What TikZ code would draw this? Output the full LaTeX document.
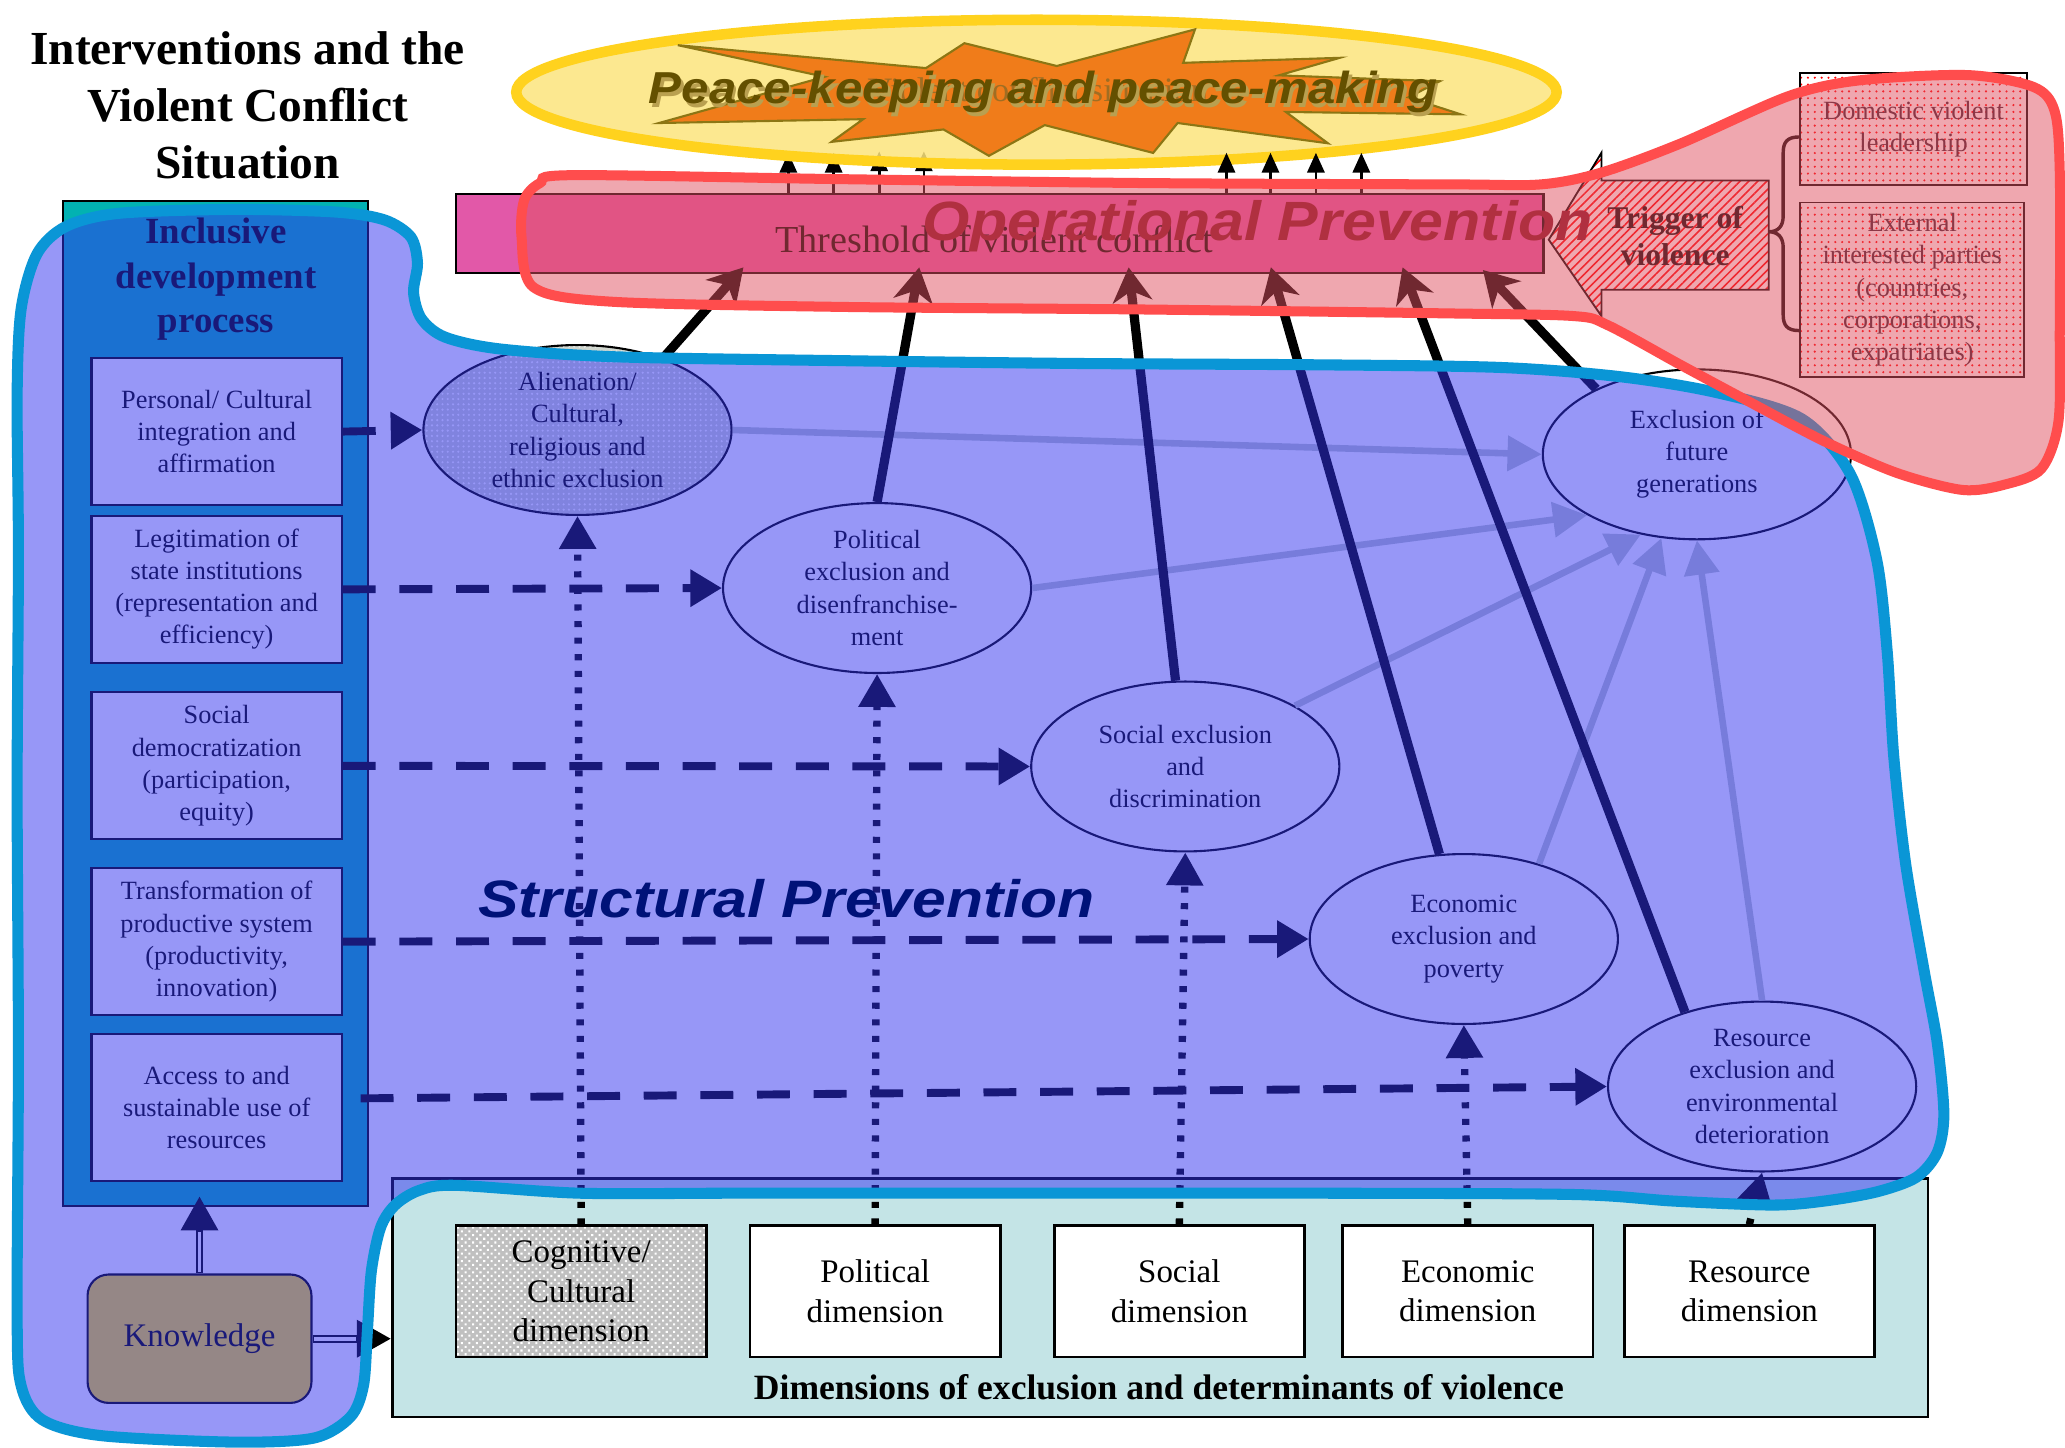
\documentclass[tikz,border=0pt]{standalone}
\usepackage{fontspec}
\setmainfont{Liberation Serif}
\newfontfamily\sansfam{Liberation Sans}
\usepackage{graphicx}
\usetikzlibrary{shapes.geometric,arrows.meta,patterns.meta,calc}
\definecolor{navyov}{RGB}{51,51,241}
\definecolor{blueline}{RGB}{10,150,214}
\definecolor{redov}{RGB}{225,81,97}
\definecolor{redline}{RGB}{255,77,77}
\definecolor{teal0}{RGB}{2,178,178}
\definecolor{magbar}{RGB}{226,88,168}
\definecolor{cyanp}{RGB}{196,228,230}
\definecolor{yellfill}{RGB}{252,228,125}
\definecolor{goldline}{RGB}{255,210,30}
\definecolor{orangestar}{RGB}{240,124,26}
\definecolor{olivestar}{RGB}{140,118,20}
\definecolor{olivetext}{RGB}{100,80,0}
\definecolor{oliveshadow}{RGB}{185,160,80}
\definecolor{lightconn}{RGB}{190,200,198}
\definecolor{knowfill}{RGB}{251,221,26}
\definecolor{alifill}{RGB}{208,214,206}
\definecolor{cogfill}{RGB}{192,192,192}
\definecolor{structxt}{RGB}{0,18,120}
\definecolor{opertxt}{RGB}{176,48,64}
\definecolor{boxtxt}{RGB}{55,29,43}
\definecolor{faintstar}{RGB}{160,110,35}
\newcommand\fsz[2]{\fontsize{#1}{#2}\selectfont}
\begin{document}
\begin{tikzpicture}[x=0.5pt,y=-0.5pt,
  ellbase/.style={ellipse, draw=black, line width=0.8pt, minimum width=117pt, minimum height=64.5pt, inner sep=0pt},
  etext/.style={align=center, font=\fsz{10}{12.2}, text=black, inner sep=0pt},
  lbox/.style={rectangle, draw=black, line width=0.8pt, fill=white, minimum width=95pt, minimum height=55.75pt, inner sep=0pt, align=center, font=\fsz{10}{12.2}},
  dboxbase/.style={rectangle, draw=black, line width=1pt, minimum width=95pt, minimum height=49.75pt, inner sep=0pt, align=center, font=\fsz{12.5}{15}},
  upconn/.style={line width=3.5pt, -{Stealth[length=13pt,width=15pt,inset=4pt]}},
  dashconn/.style={line width=3pt, dash pattern=on 12.5pt off 9pt, -{Triangle[length=12pt,width=13.5pt]}},
  dotconn/.style={line width=2.8pt, dash pattern=on 2.3pt off 4pt, -{Triangle[length=12.5pt,width=13.5pt]}},
  liteconn/.style={draw=lightconn, line width=2.5pt, -{Triangle[length=13pt,width=13pt]}},
  smallup/.style={line width=1pt, -{Triangle[length=7.5pt,width=6.5pt]}},
  redpat/.style={preaction={fill=white}, pattern={Dots[distance=2.6pt,radius=0.45pt]}, pattern color=red}
]
\useasboundingbox (0,0) rectangle (1568,1099);
\fill[white] (0,0) rectangle (1568,1099);

% ---------- title ----------
\node[align=center, font=\fsz{18}{21.6}\bfseries] (title) at (188,80) {Interventions and the\\Violent Conflict\\Situation};

% ---------- threshold bar ----------
\node[draw=black, line width=0.8pt, fill=magbar, minimum width=413pt, minimum height=30pt, inner sep=0pt] (thr) at (759,177) {};
\node[font=\fsz{14.5}{17}] (thrtxt) at (755,182) {Threshold of violent conflict};

% ---------- small arrows to the top ellipse ----------
\coordinate (s1) at (598.6,116);
\coordinate (s2) at (633,116);
\coordinate (s3) at (667.6,115);
\coordinate (s4) at (701.5,115);
\coordinate (s5) at (931.3,116);
\coordinate (s6) at (964.7,116);
\coordinate (s7) at (999.2,116);
\coordinate (s8) at (1033.7,116);
\foreach \s in {s1,s2,s3,s4}{\draw[smallup] (thr.north -| \s) -- (\s);}

% ---------- top ellipse and star ----------
\node[ellipse, draw=goldline, line width=4pt, fill=yellfill, fill opacity=0.85, draw opacity=1, minimum width=395pt, minimum height=55pt, inner sep=0pt] (pk) at (787,70) {};
\foreach \s in {s5,s6,s7,s8}{\draw[smallup] (thr.north -| \s) -- (\s);}
\filldraw[fill=orangestar, draw=olivestar, line width=0.8pt]
 (514.7,34.3) -- (703.1,51.7) -- (732.3,32.8) -- (802.4,50.1) -- (907.4,22.3) -- (898.4,47.7)
 -- (1017.3,43.9) -- (971.1,57.2) -- (1093.2,61.7) -- (1069.3,73.9) -- (1109.1,86.8) -- (976.4,85)
 -- (1008.3,108.8) -- (894.2,93.4) -- (875.6,116.1) -- (793.3,95) -- (750.9,118.3) -- (716.4,98.3)
 -- (631.5,107.7) -- (655.4,90.5) -- (500.4,93.4) -- (626.2,58.3) -- cycle;
\node[font=\fsz{13}{15}, text=faintstar] (vcs) at (788,68) {Violent conflict situation};
\node[font=\sansfam\bfseries\itshape\fsz{17}{19}, text=oliveshadow] (pkshadow) at (794,72.5) {\scalebox{1.1}[1]{Peace-keeping and peace-making}};
\node[font=\sansfam\bfseries\itshape\fsz{17}{19}, text=olivetext] (pktxt) at (792,70) {\scalebox{1.1}[1]{Peace-keeping and peace-making}};

% ---------- trigger of violence ----------
\draw[line width=0.7pt, preaction={fill=white}, pattern={Lines[angle=45,distance=2.4pt,line width=0.6pt]}, pattern color=red]
 (1176,182) -- (1216,116) -- (1216,137) -- (1343,137) -- (1343,220) -- (1216,220) -- (1216,240) -- cycle;
\node[align=center, font=\fsz{12}{14}\bfseries] (trig) at (1272,179) {Trigger of\\violence};
\draw[line width=1.3pt] (1366,104) .. controls (1357,104) and (1354,108) .. (1354,116) -- (1354,164)
 .. controls (1354,172) and (1350,176) .. (1343,176) .. controls (1350,176) and (1354,180) .. (1354,188)
 -- (1354,239) .. controls (1354,247) and (1357,251) .. (1366,251);
\node[draw=black, line width=0.7pt, redpat, minimum width=86pt, minimum height=42.5pt, inner sep=0pt, align=center, text=boxtxt, font=\fsz{10}{12}] (dom) at (1453,98) {Domestic violent\\leadership};
\node[draw=black, line width=0.7pt, redpat, minimum width=85pt, minimum height=66.25pt, inner sep=0pt, align=center, text=boxtxt, font=\fsz{10}{12.2}] (ext) at (1452,220) {External\\interested parties\\(countries,\\corporations,\\expatriates)};

% ---------- bottom panel ----------
\node[draw=black, line width=1pt, fill=cyanp, minimum width=583pt, minimum height=90.5pt, inner sep=0pt] (pan) at (881,985.5) {};
\node[dboxbase, preaction={fill=cogfill}, pattern={Dots[distance=2pt,radius=0.55pt,angle=45]}, pattern color=white] (d1) at (441.3,980.5) {Cognitive/\\Cultural\\dimension};
\node[dboxbase, fill=white] (d2) at (664.5,980.5) {Political\\dimension};
\node[dboxbase, fill=white] (d3) at (895.5,980.5) {Social\\dimension};
\node[dboxbase, fill=white] (d4) at (1114.5,980.5) {Economic\\dimension};
\node[dboxbase, fill=white] (d5) at (1328.3,980.5) {Resource\\dimension};
\node[font=\fsz{13.5}{16}\bfseries] (pantxt) at (880,1053) {Dimensions of exclusion and determinants of violence};

% ---------- inclusive development column ----------
\node[draw=black, line width=0.8pt, fill=teal0, minimum width=116pt, minimum height=381.5pt, inner sep=0pt] (col) at (163.6,534) {};
\node[align=center, font=\fsz{14}{16.8}\bfseries] (coltxt) at (164,212) {Inclusive\\development\\process};
\node[lbox] (b1) at (164.5,327.7) {Personal/ Cultural\\integration and\\affirmation};
\node[lbox] (b2) at (164.5,447.5) {Legitimation of\\state institutions\\(representation and\\efficiency)};
\node[lbox] (b3) at (164.5,581.5) {Social\\democratization\\(participation,\\equity)};
\node[lbox] (b4) at (164.5,715) {Transformation of\\productive system\\(productivity,\\innovation)};
\node[lbox] (b5) at (164.5,841) {Access to and\\sustainable use of\\resources};

% knowledge
\node[draw=black, line width=0.8pt, fill=knowfill, rounded corners=8pt, minimum width=85pt, minimum height=48.75pt, inner sep=0pt, font=\fsz{12.5}{15}] (kn) at (151.5,1016.5) {Knowledge};
\draw[line width=3pt, -{Triangle[length=13pt,width=13.5pt]}] (kn.north) -- ([yshift=4pt]kn.north |- col.south);
\draw[line width=1.4pt, white, shorten >=13.5pt, shorten <=0.6pt] (kn.north) -- ([yshift=4pt]kn.north |- col.south);
\draw[line width=3pt, -{Triangle[length=13pt,width=13.5pt]}] (kn.east) -- (kn.east -| pan.west);
\draw[line width=1.4pt, white, shorten >=13.5pt, shorten <=0.6pt] (kn.east) -- (kn.east -| pan.west);

% ---------- ellipses ----------
\node[ellbase, preaction={fill=alifill}, pattern={Dots[distance=2pt,radius=0.45pt]}, pattern color=white] (ali) at (438.5,326.5) {};
\node[etext] at (ali) {Alienation/\\Cultural,\\religious and\\ethnic exclusion};
\node[ellbase, fill=white] (pol) at (666,446.5) {};
\node[etext] at (pol) {Political\\exclusion and\\disenfranchise-\\ment};
\node[ellbase, fill=white] (soc) at (900,582) {};
\node[etext] at (soc) {Social exclusion\\and\\discrimination};
\node[ellbase, fill=white] (eco) at (1111.5,713) {};
\node[etext] at (eco) {Economic\\exclusion and\\poverty};
\node[ellbase, fill=white] (res) at (1338,825) {};
\node[etext] at (res) {Resource\\exclusion and\\environmental\\deterioration};
\node[ellbase, fill=white] (fut) at (1288.5,345) {};
\node[etext] at (fut) {Exclusion of\\future\\generations};

% ---------- light connectors to future generations ----------
\draw[liteconn] (ali.east) -- (fut.west);
\draw[liteconn] (pol.east) -- (fut.209);
\draw[liteconn] (soc.29) -- (fut.235);
\draw[liteconn] (eco.45) -- (fut.247);
\draw[liteconn] (res.north) -- (fut.south);

% ---------- dashed horizontal arrows ----------
\draw[dashconn] (b1.east) -- (ali.west);
\draw[dashconn] (b2.east) -- (pol.west);
\draw[dashconn] (b3.east) -- (soc.west);
\draw[dashconn] (b4.east) -- (eco.west);
\draw[dashconn] ([shift={(13.5,-7)}]b5.east) -- (res.west);

% ---------- dotted vertical arrows ----------
\draw[dotconn] (d1.north) -- (ali.south);
\draw[dotconn] (d2.north) -- (pol.south);
\draw[dotconn] (d3.north) -- (soc.south);
\draw[dotconn] (d4.north) -- (eco.south);
\draw[dotconn] (d5.north) -- (res.south);

% ---------- thick arrows to the threshold ----------
\coordinate (t1) at (564.5,203);
\coordinate (t2) at (698,203);
\coordinate (t3) at (857,203);
\coordinate (t4) at (965,203);
\coordinate (t5) at (1065,203);
\coordinate (t6) at (1126,205);
\draw[upconn] (ali.40) -- (t1);
\draw[upconn] (pol.north) -- (t2);
\draw[upconn] (soc) -- (t3);
\draw[upconn] (eco) -- (t4);
\draw[upconn] (res.136) -- (t5);
\draw[upconn] (fut.147) -- (t6);

% ---------- structural prevention region ----------
\filldraw[fill=navyov, fill opacity=0.506, draw=blueline, draw opacity=1, line width=4.2pt]
 plot[smooth cycle, tension=0.5] coordinates {
 (14,420) (13,300) (16,235) (28,193) (50,172) (90,162) (177,159) (255,161) (292,167) (312,180)
 (317,200) (314,222) (320,242) (338,256) (380,265) (470,271) (650,274) (820,276) (1000,277)
 (1139,279) (1230,286) (1303,298) (1368,318) (1405,360) (1425,425) (1433,495) (1438,575)
 (1447,656) (1461,737) (1471,792) (1476,846) (1471,875) (1455,894) (1425,905) (1385,912)
 (1346,915) (1271,912) (1195,907) (1000,906) (760,906) (560,906) (440,906) (345,900) (318,904)
 (300,915) (289,932) (282,965) (279,1010) (276,1052) (266,1076) (238,1092) (177,1095) (76,1090)
 (32,1078) (16,1052) (13,1000) (14,800) (13,600)};

% ---------- operational prevention region ----------
\filldraw[fill=redov, fill opacity=0.5, draw=redline, draw opacity=1, line width=3.8pt]
 plot[smooth cycle, tension=0.5] coordinates {
 (396,180) (398,152) (410,139) (434,133) (637,136) (870,139) (1102,140) (1170,140) (1216,131)
 (1276,109) (1358,73) (1412,61) (1494,57) (1544,66) (1560,84) (1564,130) (1564,250) (1563,320)
 (1550,356) (1522,368) (1490,372) (1440,359) (1385,335) (1330,306) (1276,277) (1221,247)
 (1195,240) (1102,238) (869,235) (637,233) (463,229) (405,218)};

% ---------- region labels ----------
\node[font=\sansfam\bfseries\itshape\fsz{20}{22}, text=structxt] (sp) at (597,682) {\scalebox{1.15}[1]{Structural Prevention}};
\node[font=\sansfam\bfseries\itshape\fsz{21}{23}, text=opertxt] (op) at (955,172) {\scalebox{1.1}[1]{Operational Prevention}};
\end{tikzpicture}
\end{document}
